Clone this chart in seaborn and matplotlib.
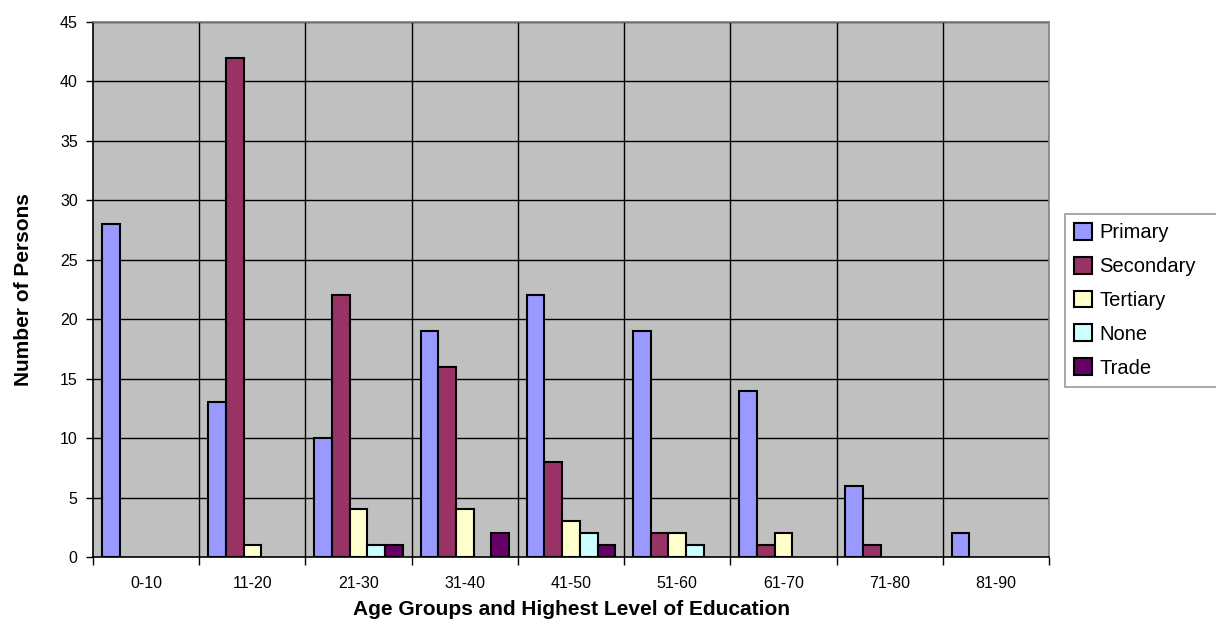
import numpy as np
import pandas as pd
import matplotlib
matplotlib.use("Agg")
import matplotlib.pyplot as plt
import seaborn as sns

age_groups = ["0-10", "11-20", "21-30", "31-40", "41-50", "51-60", "61-70", "71-80", "81-90"]
education_levels = ["Primary", "Secondary", "Tertiary", "None", "Trade"]

primary = [28, 13, 10, 19, 22, 19, 14, 6, 2]
secondary = [0, 42, 22, 16, 8, 2, 1, 1, 0]
tertiary = [0, 1, 4, 4, 3, 2, 2, 0, 0]
none = [0, 0, 1, 0, 2, 1, 0, 0, 0]
trade = [0, 0, 1, 2, 1, 0, 0, 0, 0]

palette = ["#9999FF", "#993366", "#FFFFCC", "#CCFFFF", "#660066"]

series = {
    "Primary": primary,
    "Secondary": secondary,
    "Tertiary": tertiary,
    "None": none,
    "Trade": trade,
}
rows = []
for level, values in series.items():
    for age, v in zip(age_groups, values):
        rows.append({"Age": age, "Level": level, "Count": v})
df = pd.DataFrame(rows)
# empty cells are left blank rather than drawn as flat bars
df_bars = df[df["Count"] > 0]

sns.set_style("white")
plt.rcParams["font.family"] = ["Liberation Sans", "DejaVu Sans"]
plt.rcParams["text.color"] = "black"
plt.rcParams["axes.labelcolor"] = "black"
plt.rcParams["xtick.color"] = "black"
plt.rcParams["ytick.color"] = "black"

fig = plt.figure(figsize=(12.16, 6.19), dpi=100)
ax = fig.add_axes([0.0765, 0.1002, 0.7862, 0.8643])
ax.set_facecolor("#C0C0C0")

sns.barplot(
    data=df_bars, x="Age", y="Count", hue="Level",
    order=age_groups, hue_order=education_levels,
    palette=palette, width=5 / 6, dodge=True,
    edgecolor="black", linewidth=1.5, saturation=1,
    errorbar=None, ax=ax, zorder=3,
)

ax.set_xlim(-0.5, len(age_groups) - 0.5)
ax.set_ylim(0, 45)
ax.set_yticks(np.arange(0, 46, 5))

# horizontal gridlines and category separators
for y in np.arange(5, 46, 5):
    ax.axhline(y, color="black", lw=1, zorder=1)
for i in range(1, len(age_groups)):
    ax.axvline(i - 0.5, color="black", lw=1, zorder=1)

for side in ["top", "right"]:
    ax.spines[side].set_color("#808080")
    ax.spines[side].set_linewidth(1.2)
for side in ["left", "bottom"]:
    ax.spines[side].set_color("black")
    ax.spines[side].set_linewidth(1.2)

ax.set_xticks(np.arange(len(age_groups)))
ax.set_xticklabels(age_groups)
ax.tick_params(axis="x", length=0, pad=14, labelsize=11.5, labelcolor="black")
ax.tick_params(axis="y", length=5, width=1, direction="out", left=True,
               labelsize=11.5, pad=6, labelcolor="black", color="black")
# boundary tick marks on the category axis
ax.set_xticks(np.arange(-0.5, len(age_groups), 1), minor=True)
ax.tick_params(axis="x", which="minor", length=6, width=1, direction="out",
               bottom=True, color="black")

ax.set_xlabel("Age Groups and Highest Level of Education", fontsize=15,
              fontweight="bold", labelpad=6, color="black")
ax.set_ylabel("Number of Persons", fontsize=15, fontweight="bold",
              labelpad=19, color="black")

handles, labels = ax.get_legend_handles_labels()
leg = ax.legend(
    handles, labels, loc="upper left",
    bbox_to_anchor=(1065 / 1216, 1 - 214 / 619, 170 / 1216, 0.0),
    bbox_transform=fig.transFigure, mode="expand", borderaxespad=0,
    frameon=True, fancybox=False, edgecolor="#808080", fontsize=14.5,
    handlelength=0.9, handleheight=0.9, handletextpad=0.35, labelspacing=0.72,
    borderpad=0.45,
)
leg.get_frame().set_linewidth(1.2)
for t in leg.get_texts():
    t.set_color("black")

fig.savefig("out.png", dpi=100)
